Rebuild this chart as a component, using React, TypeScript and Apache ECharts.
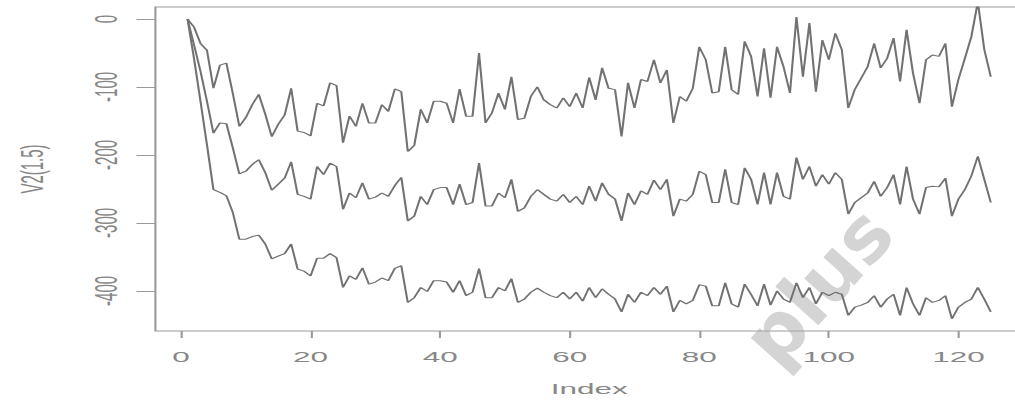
import { useEffect, useRef } from "react";
import * as echarts from "echarts";

// Index positions 1..125
const index: number[] = [
  1, 2, 3, 4, 5, 6, 7, 8, 9, 10, 11, 12, 13, 14, 15, 16, 17, 18, 19, 20, 21, 22, 23, 24, 25,
  26, 27, 28, 29, 30, 31, 32, 33, 34, 35, 36, 37, 38, 39, 40, 41, 42, 43, 44, 45, 46, 47, 48, 49, 50,
  51, 52, 53, 54, 55, 56, 57, 58, 59, 60, 61, 62, 63, 64, 65, 66, 67, 68, 69, 70, 71, 72, 73, 74, 75,
  76, 77, 78, 79, 80, 81, 82, 83, 84, 85, 86, 87, 88, 89, 90, 91, 92, 93, 94, 95, 96, 97, 98, 99, 100,
  101, 102, 103, 104, 105, 106, 107, 108, 109, 110, 111, 112, 113, 114, 115, 116, 117, 118, 119, 120,
  121, 122, 123, 124, 125,
];

// Upper path
const upper: number[] = [
  0, -12, -36, -46, -102, -68, -65, -110, -158, -145, -126, -111, -140, -173, -155, -141, -102, -165, -167, -172,
  -124, -128, -94, -98, -182, -143, -158, -124, -153, -153, -126, -136, -103, -107, -195, -186, -133, -153, -121, -121,
  -124, -153, -103, -143, -143, -50, -153, -138, -109, -133, -85, -148, -146, -114, -100, -119, -126, -131, -116, -129,
  -109, -131, -86, -119, -72, -102, -104, -173, -94, -131, -89, -92, -60, -94, -75, -153, -114, -121, -102, -41,
  -60, -109, -107, -41, -104, -111, -33, -55, -114, -43, -116, -41, -70, -109, 3, -85, -6, -107, -31, -60,
  -21, -45, -131, -104, -87, -70, -36, -72, -58, -28, -92, -16, -80, -124, -60, -53, -55, -36, -129, -89,
  -58, -26, 25, -45, -85,
];

// Middle path
const middle: number[] = [
  0, -38, -77, -121, -168, -153, -154, -190, -228, -224, -214, -207, -226, -252, -243, -234, -210, -258, -261, -265,
  -217, -229, -212, -217, -280, -256, -263, -241, -265, -262, -256, -261, -245, -233, -297, -290, -261, -273, -251, -248,
  -248, -273, -243, -273, -270, -212, -275, -275, -256, -263, -236, -283, -278, -261, -251, -258, -265, -268, -258, -270,
  -261, -273, -246, -268, -241, -258, -265, -297, -256, -273, -253, -258, -237, -251, -236, -290, -265, -268, -258, -224,
  -229, -270, -270, -221, -270, -273, -219, -236, -273, -226, -273, -226, -261, -265, -204, -236, -217, -246, -229, -243,
  -226, -236, -287, -270, -263, -256, -239, -261, -248, -229, -273, -217, -265, -287, -248, -246, -247, -234, -290, -265,
  -251, -231, -202, -236, -270,
];

// Lower path
const lower: number[] = [
  0, -58, -121, -185, -251, -255, -260, -285, -324, -324, -320, -318, -331, -353, -349, -345, -331, -368, -371, -378,
  -352, -352, -345, -351, -395, -378, -383, -366, -390, -387, -381, -385, -367, -363, -417, -410, -395, -401, -385, -385,
  -387, -402, -385, -407, -402, -367, -410, -410, -395, -400, -382, -417, -412, -402, -396, -402, -407, -410, -402, -412,
  -402, -415, -395, -410, -397, -405, -412, -431, -405, -417, -402, -407, -395, -405, -393, -431, -414, -419, -414, -391,
  -393, -422, -422, -388, -419, -424, -390, -405, -422, -390, -421, -400, -412, -417, -388, -410, -395, -419, -402, -407,
  -402, -405, -436, -424, -421, -417, -407, -424, -412, -405, -436, -395, -419, -436, -410, -417, -414, -407, -441, -424,
  -417, -412, -395, -412, -431,
];

const xTicks: number[] = [0, 20, 40, 60, 80, 100, 120];
const yTicks: number[] = [0, -100, -200, -300, -400];

// The plot is laid out narrow and then stretched horizontally.
const STRETCH_X = 2.1;
const CHART_W = 495;
const CHART_H = 401;

const TEXT_COLOR = "#878787";
const FRAME_COLOR = "#9a9a9a";
const LINE_COLOR = "#727272";
const FONT = "'Liberation Sans', Arial, sans-serif";

export default function App() {
  const ref = useRef<HTMLDivElement>(null);

  useEffect(() => {
    if (!ref.current) return;
    const chart = echarts.init(ref.current, null, { renderer: "svg" });

    const pairs = (vals: number[]) => index.map((x, k) => [x, vals[k]]);
    const lineSeries = (name: string, vals: number[]) => ({
      name,
      type: "line",
      data: pairs(vals),
      showSymbol: false,
      silent: true,
      lineStyle: { color: LINE_COLOR, width: 1 },
      z: 3,
    });

    chart.setOption({
      animation: false,
      backgroundColor: "#ffffff",
      grid: {
        left: 72.9,
        top: 7,
        right: CHART_W - 487.1,
        bottom: CHART_H - 332,
        show: true,
        borderColor: FRAME_COLOR,
        borderWidth: 1,
        backgroundColor: "transparent",
      },
      xAxis: {
        type: "value",
        min: -3.96,
        max: 129.96,
        name: "Index",
        nameLocation: "middle",
        nameGap: 50,
        nameTextStyle: { color: TEXT_COLOR, fontSize: 15, fontFamily: FONT },
        axisLine: { show: false, onZero: false },
        splitLine: { show: false },
        axisTick: {
          show: true,
          inside: false,
          length: 7,
          customValues: xTicks,
          lineStyle: { color: FRAME_COLOR, width: 1 },
        },
        axisLabel: {
          customValues: xTicks,
          color: TEXT_COLOR,
          fontSize: 15,
          fontFamily: FONT,
          margin: 18,
        },
      },
      yAxis: {
        type: "value",
        min: -459,
        max: 17.6,
        name: "V2(1.5)",
        nameLocation: "middle",
        nameRotate: 90,
        nameGap: 51,
        nameTextStyle: { color: TEXT_COLOR, fontSize: 15, fontFamily: FONT },
        axisLine: { show: false, onZero: false },
        splitLine: { show: false },
        axisTick: {
          show: true,
          inside: false,
          length: 9,
          customValues: yTicks,
          lineStyle: { color: FRAME_COLOR, width: 1 },
        },
        axisLabel: {
          customValues: yTicks,
          rotate: 90,
          color: TEXT_COLOR,
          fontSize: 15,
          fontFamily: FONT,
          margin: 16,
        },
      },
      graphic: [
        {
          // watermark, kept unstretched by undoing the horizontal scale
          type: "group",
          x: 818 / STRETCH_X,
          y: 286,
          scaleX: 1 / STRETCH_X,
          silent: true,
          z: 0,
          children: [
            {
              type: "text",
              x: 0,
              y: 0,
              rotation: (48 * Math.PI) / 180,
              style: {
                text: "plus",
                fill: "rgba(170,170,170,0.5)",
                font: "bold 76px 'DejaVu Sans', sans-serif",
                textAlign: "center",
                textVerticalAlign: "middle",
              },
            },
          ],
        },
      ],
      series: [
        lineSeries("upper", upper),
        lineSeries("middle", middle),
        lineSeries("lower", lower),
      ],
    });

    return () => chart.dispose();
  }, []);

  return (
    <div
      style={{
        position: "fixed",
        left: 0,
        top: 0,
        width: 1015,
        height: 401,
        overflow: "hidden",
        background: "#ffffff",
      }}
    >
      <div
        ref={ref}
        style={{
          width: CHART_W,
          height: CHART_H,
          transform: `scaleX(${STRETCH_X})`,
          transformOrigin: "0 0",
        }}
      />
    </div>
  );
}
